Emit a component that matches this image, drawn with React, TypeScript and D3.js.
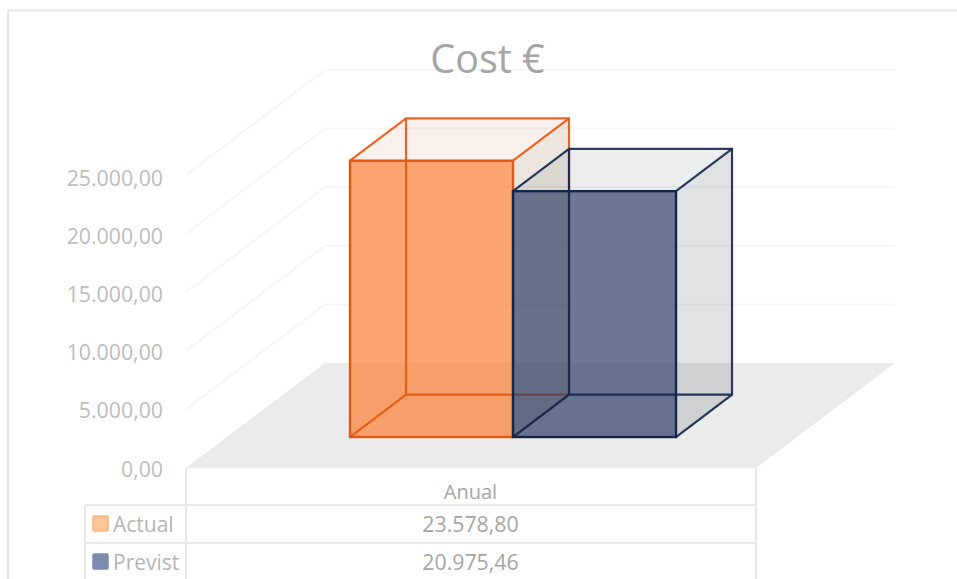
import React, { useEffect, useRef } from 'react';
import * as d3 from 'd3';

const category = 'Anual';
const seriesNames = ['Actual', 'Previst'];
const seriesValues = [23578.8, 20975.46];
const yTicks = [0, 5000, 10000, 15000, 20000, 25000];
const yGrid = [5000, 10000, 15000, 20000, 25000];
const lineColors = ['#E6560F', '#12264C'];
const fillColors = ['#FC7A2E', '#283A62'];
const topColors = ['#C8643C', '#1E3246'];
const sideColors = ['#82501E', '#28323C'];
const swatchFill = ['#FDC59A', '#7C8CAE'];
const swatchStroke = ['#FFB27C', '#7C8CAE'];

const fontFamily = '"Open Sans", "Noto Sans", sans-serif';
const locale = d3.formatLocale({ decimal: ',', thousands: '.', grouping: [3], currency: ['', '€'] });
const fmt = locale.format(',.2f');

const App = () => {
  const ref = useRef<SVGSVGElement>(null);

  useEffect(() => {
    const svg = d3.select(ref.current);
    svg.selectAll('*').remove();

    // front plane of the 3D box and the shift towards the back wall
    const x0 = 186;
    const x1 = 756;
    const floorY = 468;
    const depthX = 139;
    const depthY = -105;
    // bars sit inside the floor, their depth is a share of the whole floor depth
    const barStart = 0.295;
    const barDepth = 0.403;

    const y = d3.scaleLinear().domain([0, 5000]).range([0, -58.6]);
    const labelY = d3.scaleLinear().domain([0, 25000]).range([476.5, 185.5]);
    const xBand = d3.scaleBand().domain(seriesNames).range([350, 676]).padding(0);

    const line = d3.line();

    // chart frame
    svg.append('path')
      .attr('d', 'M8,579V10.5H957')
      .attr('fill', 'none')
      .attr('stroke', '#E6E6E6')
      .attr('stroke-width', 2);

    // floor
    svg.append('path')
      .attr('d', line([[x0, floorY], [x0 + depthX, floorY + depthY], [x1 + depthX, floorY + depthY], [x1, floorY]]) + 'Z')
      .attr('fill', '#EBEBEB');

    // gridlines on side and back wall
    svg.selectAll('.grid')
      .data(yGrid)
      .enter().append('path')
      .attr('class', 'grid')
      .attr('d', d => line([
        [x0, floorY + y(d)],
        [x0 + depthX, floorY + depthY + y(d)],
        [x1 + depthX, floorY + depthY + y(d)],
      ]))
      .attr('fill', 'none')
      .attr('stroke', '#F6F6F6')
      .attr('stroke-width', 2);

    // bars
    seriesNames.forEach((name, i) => {
      const value = seriesValues[i];
      const left = xBand(name) as number;
      const right = left + xBand.bandwidth();
      const dx = depthX * barDepth;
      const dy = depthY * barDepth;
      const bottom = floorY + depthY * barStart;
      const top = bottom + y(value);
      const g = svg.append('g');
      const face = (pts: [number, number][], color: string, opacity: number) => {
        g.append('path')
          .attr('d', line(pts) + 'Z')
          .attr('fill', color)
          .attr('fill-opacity', opacity)
          .attr('stroke', 'none');
      };
      // right side, top and front
      face([[right, top], [right + dx, top + dy], [right + dx, bottom + dy], [right, bottom]], sideColors[i], 0.14);
      face([[left, top], [left + dx, top + dy], [right + dx, top + dy], [right, top]], topColors[i], 0.09);
      face([[left, top], [right, top], [right, bottom], [left, bottom]], fillColors[i], 0.68);

      const edges: [number, number][][] = [
        [[left + dx, bottom + dy], [left + dx, top + dy]],
        [[left, bottom], [left + dx, bottom + dy], [right + dx, bottom + dy]],
        [[left, top], [left + dx, top + dy], [right + dx, top + dy], [right + dx, bottom + dy], [right, bottom]],
        [[right, top], [right + dx, top + dy]],
      ];
      edges.forEach(e => {
        g.append('path')
          .attr('d', line(e))
          .attr('fill', 'none')
          .attr('stroke', lineColors[i])
          .attr('stroke-opacity', 0.9)
          .attr('stroke-width', 2.2);
      });
      g.append('rect')
        .attr('x', left)
        .attr('y', top)
        .attr('width', right - left)
        .attr('height', bottom - top)
        .attr('fill', 'none')
        .attr('stroke', lineColors[i])
        .attr('stroke-width', 2.4);
    });

    // data table
    const rowY = [505, 543];
    const tableLines = [
      [[x0, floorY], [x0, 579]],
      [[x1, floorY], [x1, 579]],
      [[85, rowY[0]], [85, 579]],
      [[85, rowY[0]], [x1, rowY[0]]],
      [[85, rowY[1]], [x1, rowY[1]]],
    ] as [number, number][][];
    tableLines.forEach(l => {
      svg.append('path')
        .attr('d', line(l))
        .attr('fill', 'none')
        .attr('stroke', '#E8E8E8')
        .attr('stroke-width', 2);
    });

    const text = (x: number, yy: number, s: string, size: number, anchor: string, fill: string) =>
      svg.append('text')
        .attr('x', x)
        .attr('y', yy)
        .attr('text-anchor', anchor)
        .attr('font-family', fontFamily)
        .attr('font-size', size)
        .attr('fill', fill)
        .text(s);

    text(487.5, 73, 'Cost €', 39.5, 'middle', '#A6A6A6');

    yTicks.forEach(t => {
      text(163, labelY(t), fmt(t), 21.3, 'end', '#BDBDBD');
    });

    text(470.5, 499, category, 20, 'middle', '#A6A6A6');
    seriesNames.forEach((name, i) => {
      const cy = rowY[i] + 19;
      svg.append('rect')
        .attr('x', 93)
        .attr('y', cy - 8)
        .attr('width', 15)
        .attr('height', 15)
        .attr('rx', 1)
        .attr('fill', swatchFill[i])
        .attr('stroke', swatchStroke[i])
        .attr('stroke-width', 1.5);
      text(113, cy + 8, name, 21, 'start', '#B5B5B5');
      text(470.5, cy + 8, fmt(seriesValues[i]), 21.3, 'middle', '#A6A6A6');
    });
  }, []);

  return (
    <svg
      ref={ref}
      width={957}
      height={579}
      style={{ position: 'absolute', left: 0, top: 0, display: 'block', background: '#fff' }}
    />
  );
};

export default App;
